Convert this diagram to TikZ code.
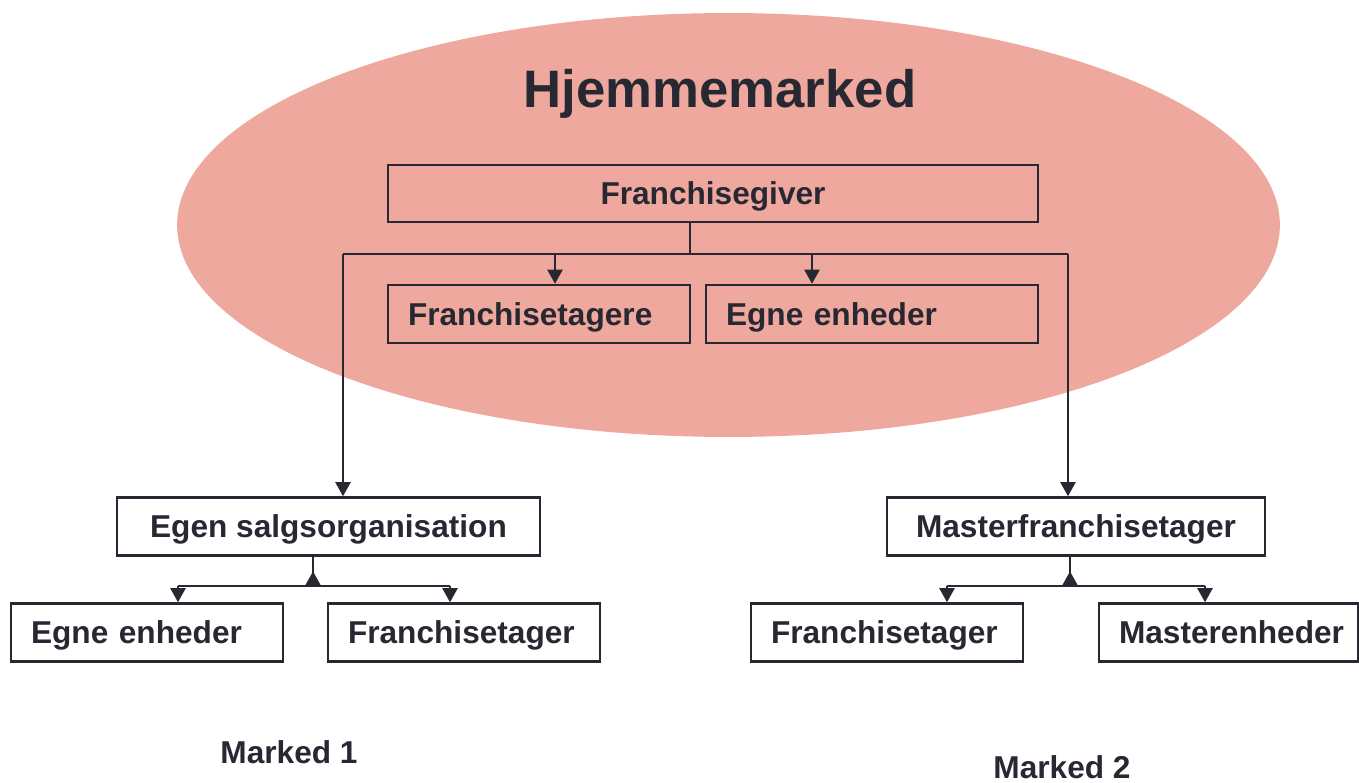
\documentclass[tikz,border=0pt]{standalone}
\usepackage{fontspec}
\setmainfont{Liberation Sans}
\usetikzlibrary{arrows.meta,calc}
\usepackage{xcolor}
\definecolor{linegray}{RGB}{40,40,50}
\definecolor{homered}{RGB}{238,168,158}

\begin{document}
\begin{tikzpicture}[x=0.02cm,y=-0.02cm,
        box/.style={draw=linegray, line width=1.4pt, text=linegray, minimum height=1.16cm, inner sep=0pt, text depth=0pt, font=\fontsize{18}{20}\selectfont\bfseries},
        lbox/.style={box, text width=#1, align=left, inner xsep=0.4cm},
        link/.style={draw=linegray, line width=1.4pt},
        tip/.style={link, -{Triangle[length=8pt,width=8.5pt]}},
        lbl/.style={text=linegray, inner sep=0pt, text depth=0pt, font=\fontsize{18}{20}\selectfont\bfseries}]
        \useasboundingbox (0,0) rectangle (1359,783);

        % home market
        \fill[homered] (728.5,225) ellipse [x radius=11.03cm, y radius=4.24cm];
        \node[lbl, font=\fontsize{30}{34}\selectfont\bfseries] (title) at (720,88) {Hjemmemarked};

        \node[box, minimum width=13cm, minimum height=1.14cm] (giver) at (713,193.5) {Franchisegiver};
        \node[lbox=5.24cm] (ftagere) at (539,314) {Franchisetagere};
        \node[lbox=5.84cm] (egne1) at (872,314) {Egne enheder};

        % markets abroad
        \node[box, minimum width=8.46cm] (salg) at (328.5,526.5) {Egen salgsorganisation};
        \node[box, minimum width=7.56cm] (master) at (1076,526.5) {Masterfranchisetager};
        \node[lbox=4.64cm] (egne2) at (147,632.5) {Egne enheder};
        \node[lbox=4.64cm] (ftager1) at (464,632.5) {Franchisetager};
        \node[lbox=4.64cm] (ftager2) at (887,632.5) {Franchisetager};
        \node[lbox=4.38cm] (menh) at (1228.5,632.5) {Masterenheder};

        \node[lbl] (m1) at (289,752) {Marked 1};
        \node[lbl] (m2) at (1062,767) {Marked 2};

        \coordinate (gj) at (690,254);
        \coordinate (hl) at (343,254);
        \coordinate (hr) at (1068,254);
        \coordinate (a1) at (555,254);
        \coordinate (a2) at (812,254);
        \coordinate (sj) at (313,586);
        \coordinate (bl1) at (178,586);
        \coordinate (bl2) at (450,586);
        \coordinate (mj) at (1070,586);
        \coordinate (br1) at (947,586);
        \coordinate (br2) at (1205,586);

        \draw[link] (gj |- giver.south) -- (gj);
        \draw[link] (hl) -- (hr);
        \draw[tip] (a1) -- (a1 |- ftagere.north);
        \draw[tip] (a2) -- (a2 |- egne1.north);
        \draw[tip] (hl) -- (hl |- salg.north);
        \draw[tip] (hr) -- (hr |- master.north);

        \draw[link] (sj |- salg.south) -- (sj);
        \draw[tip] (sj) -- ($(sj)!0.5!(sj |- salg.south)$);
        \draw[link] (bl1) -- (bl2);
        \draw[tip] (bl1) -- (bl1 |- egne2.north);
        \draw[tip] (bl2) -- (bl2 |- ftager1.north);

        \draw[link] (mj |- master.south) -- (mj);
        \draw[tip] (mj) -- ($(mj)!0.5!(mj |- master.south)$);
        \draw[link] (br1) -- (br2);
        \draw[tip] (br1) -- (br1 |- ftager2.north);
        \draw[tip] (br2) -- (br2 |- menh.north);
\end{tikzpicture}
\end{document}
